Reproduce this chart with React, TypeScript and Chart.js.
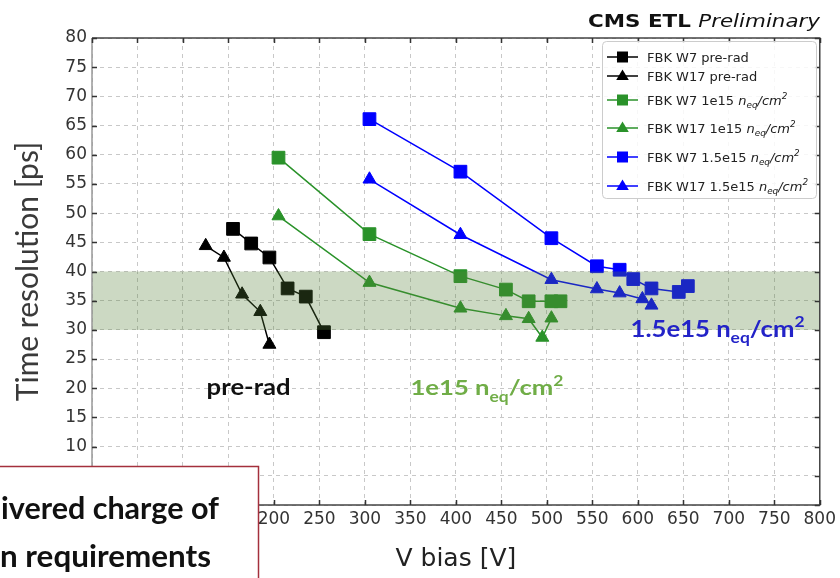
import React, { useEffect, useRef } from 'react';
import { Chart, registerables } from 'chart.js';

Chart.register(...registerables);

// ---------- data ----------
const w7PreX = [155, 175, 195, 215, 235, 255];
const w7PreY = [47.3, 44.8, 42.4, 37.1, 35.7, 29.6];

const w17PreX = [125, 145, 165, 185, 195];
const w17PreY = [44.4, 42.4, 36.1, 33.1, 27.5];

const w7e15X = [205, 305, 405, 455, 480, 505, 515];
const w7e15Y = [59.5, 46.4, 39.2, 36.9, 34.9, 34.9, 34.9];

const w17e15X = [205, 305, 405, 455, 480, 495, 505];
const w17e15Y = [49.5, 38.1, 33.7, 32.4, 31.9, 28.7, 32.0];

const w7e155X = [305, 405, 505, 555, 580, 595, 615, 645, 655];
const w7e155Y = [66.1, 57.1, 45.7, 40.9, 40.3, 38.7, 37.1, 36.5, 37.5];

const w17e155X = [305, 405, 505, 555, 580, 605, 615];
const w17e155Y = [55.8, 46.3, 38.6, 37.0, 36.3, 35.3, 34.2];

const bandRange = [30, 40];
const xMin = 0, xMax = 800, xStep = 50;
const yMin = 0, yMax = 80, yStep = 5;

const xTitle = 'V bias [V]';
const yTitle = 'Time resolution [ps]';

type Part = { t: string; i?: boolean; b?: boolean; sub?: boolean; sup?: boolean };

const fluence = (dose: string, it: boolean): Part[] => [
  { t: dose + ' ' },
  { t: 'n', i: it },
  { t: 'eq', i: it, sub: true },
  { t: '/cm', i: it },
  { t: '2', i: it, sup: true },
];

const seriesNames: Part[][] = [
  [{ t: 'FBK W7 pre-rad' }],
  [{ t: 'FBK W17 pre-rad' }],
  [{ t: 'FBK W7 ' }, ...fluence('1e15', true)],
  [{ t: 'FBK W17 ' }, ...fluence('1e15', true)],
  [{ t: 'FBK W7 ' }, ...fluence('1.5e15', true)],
  [{ t: 'FBK W17 ' }, ...fluence('1.5e15', true)],
];

const BLACK = '#000000';
const GREEN = '#2a922a';
const BLUE = '#0000ff';

const seriesColors = [BLACK, BLACK, GREEN, GREEN, BLUE, BLUE];
const seriesShapes = ['rect', 'triangle', 'rect', 'triangle', 'rect', 'triangle'];
const seriesX = [w7PreX, w17PreX, w7e15X, w17e15X, w7e155X, w17e155X];
const seriesY = [w7PreY, w17PreY, w7e15Y, w17e15Y, w7e155Y, w17e155Y];

// ---------- text helpers ----------
function fontOf(p: Part, size: number, family: string, bold: boolean) {
  const sz = p.sub || p.sup ? size * 0.68 : size;
  return `${p.i ? 'italic ' : ''}${p.b || bold ? 'bold ' : ''}${sz}px "${family}"`;
}

function drawRich(
  ctx: CanvasRenderingContext2D,
  parts: Part[],
  x: number,
  y: number,
  o: { size: number; family: string; bold?: boolean; color: string; align?: string; width?: number }
) {
  ctx.save();
  let total = 0;
  const widths = parts.map((p) => {
    ctx.font = fontOf(p, o.size, o.family, !!o.bold);
    const w = ctx.measureText(p.t).width;
    total += w;
    return w;
  });
  const sx = o.width ? o.width / total : 1;
  const W = total * sx;
  const x0 = o.align === 'center' ? x - W / 2 : o.align === 'right' ? x - W : x;
  ctx.translate(x0, y);
  ctx.scale(sx, 1);
  ctx.fillStyle = o.color;
  ctx.textAlign = 'left';
  ctx.textBaseline = 'alphabetic';
  let cx = 0;
  parts.forEach((p, k) => {
    ctx.font = fontOf(p, o.size, o.family, !!o.bold);
    const dy = p.sub ? o.size * 0.3 : p.sup ? -o.size * 0.42 : 0;
    ctx.fillText(p.t, cx, dy);
    cx += widths[k];
  });
  ctx.restore();
}

function drawMarker(ctx: CanvasRenderingContext2D, shape: string, x: number, y: number, r: number, color: string) {
  ctx.save();
  ctx.fillStyle = color;
  ctx.beginPath();
  if (shape === 'rect') {
    ctx.rect(x - r, y - r, 2 * r, 2 * r);
  } else {
    const h = r * 1.75;
    ctx.moveTo(x, y - h * 0.62);
    ctx.lineTo(x + r * 1.05, y + h * 0.38);
    ctx.lineTo(x - r * 1.05, y + h * 0.38);
    ctx.closePath();
  }
  ctx.fill();
  ctx.restore();
}

// ---------- plugin for matplotlib-like frame, band, legend, notes ----------
const decorPlugin = {
  id: 'decor',
  afterDatasetsDraw(chart: any) {
    const { ctx, chartArea: a, scales } = chart;
    const y = scales.y;
    const yTop = y.getPixelForValue(bandRange[1]);
    const yBot = y.getPixelForValue(bandRange[0]);
    ctx.save();
    ctx.fillStyle = 'rgba(85,128,55,0.3)';
    ctx.fillRect(a.left, yTop, a.right - a.left, yBot - yTop);
    ctx.restore();
  },
  afterDraw(chart: any) {
    const { ctx, chartArea: a, scales } = chart;
    const xs = scales.x;
    const ys = scales.y;

    // spines
    ctx.save();
    ctx.lineWidth = 1.5;
    ctx.strokeStyle = '#444';
    ctx.beginPath();
    ctx.moveTo(a.left, a.top);
    ctx.lineTo(a.right, a.top);
    ctx.lineTo(a.right, a.bottom);
    ctx.lineTo(a.left, a.bottom);
    ctx.stroke();
    ctx.strokeStyle = '#999';
    ctx.beginPath();
    ctx.moveTo(a.left, a.top);
    ctx.lineTo(a.left, a.bottom);
    ctx.stroke();

    // inward ticks on all four sides
    ctx.strokeStyle = '#333';
    ctx.lineWidth = 1.5;
    const tl = 5;
    ctx.beginPath();
    for (let v = xMin; v <= xMax; v += xStep) {
      const px = Math.round(xs.getPixelForValue(v)) + 0.5;
      ctx.moveTo(px, a.bottom);
      ctx.lineTo(px, a.bottom - tl);
      ctx.moveTo(px, a.top);
      ctx.lineTo(px, a.top + tl);
    }
    for (let v = yMin; v <= yMax; v += yStep) {
      const py = Math.round(ys.getPixelForValue(v)) + 0.5;
      ctx.moveTo(a.left, py);
      ctx.lineTo(a.left + tl, py);
      ctx.moveTo(a.right, py);
      ctx.lineTo(a.right - tl, py);
    }
    ctx.stroke();
    ctx.restore();

    // legend
    const lg = { left: 602, top: 41, right: 816, bottom: 198 };
    ctx.save();
    ctx.fillStyle = 'rgba(255,255,255,0.85)';
    ctx.strokeStyle = '#cccccc';
    ctx.lineWidth = 1;
    ctx.beginPath();
    (ctx as any).roundRect(lg.left + 0.5, lg.top + 0.5, lg.right - lg.left, lg.bottom - lg.top, 4);
    ctx.fill();
    ctx.stroke();
    ctx.restore();
    const rowY = [57, 76, 100, 128, 157, 186];
    seriesNames.forEach((parts, i) => {
      const yy = rowY[i];
      ctx.save();
      ctx.strokeStyle = seriesColors[i];
      ctx.lineWidth = 1.5;
      ctx.beginPath();
      ctx.moveTo(607, yy);
      ctx.lineTo(638, yy);
      ctx.stroke();
      ctx.restore();
      drawMarker(ctx, seriesShapes[i], 622.5, yy, seriesShapes[i] === 'rect' ? 5.5 : 6, seriesColors[i]);
      drawRich(ctx, parts, 647, yy + 4.5, { size: 13, family: 'DejaVu Sans', color: '#222' });
    });

    // header
    drawRich(ctx, [{ t: 'CMS ETL ', b: true }, { t: 'Preliminary', i: true }], 820, 26.5, {
      size: 18, family: 'DejaVu Sans', color: '#111', align: 'right', width: 232,
    });

    // slide annotations (placed in data units)
    drawRich(ctx, [{ t: 'pre-rad' }], xs.getPixelForValue(126), ys.getPixelForValue(18.8), {
      size: 22, family: 'Lato', bold: true, color: '#111', width: 84,
    });
    drawRich(ctx, fluence('1e15', false), xs.getPixelForValue(350), ys.getPixelForValue(18.8), {
      size: 21, family: 'Lato', bold: true, color: '#70ad47', width: 153,
    });
    drawRich(ctx, fluence('1.5e15', false), xs.getPixelForValue(592), ys.getPixelForValue(28.83), {
      size: 22, family: 'Lato', bold: true, color: '#2323c8', width: 174,
    });

    // overlapping slide text box (bottom-left)
    ctx.save();
    ctx.fillStyle = '#ffffff';
    ctx.strokeStyle = '#a4303c';
    ctx.lineWidth = 1.5;
    ctx.fillRect(-5, 466, 264, 200);
    ctx.strokeRect(-5, 466.5, 263.5, 200);
    ctx.restore();
    drawRich(ctx, [{ t: 'ivered charge of' }], 1, 518.5, {
      size: 30, family: 'Lato', bold: true, color: '#111', width: 218,
    });
    drawRich(ctx, [{ t: 'n requirements' }], 0, 566.5, {
      size: 30, family: 'Lato', bold: true, color: '#111', width: 211,
    });
  },
};

export default function App() {
  const ref = useRef<HTMLCanvasElement | null>(null);

  useEffect(() => {
    document.body.style.margin = '0';
    const canvas = ref.current;
    if (!canvas) return;

    const datasets = seriesX.map((xs, i) => ({
      label: seriesNames[i].map((p) => p.t).join(''),
      data: xs.map((v, k) => ({ x: v, y: seriesY[i][k] })),
      showLine: true,
      borderColor: seriesColors[i],
      backgroundColor: seriesColors[i],
      pointBackgroundColor: seriesColors[i],
      pointBorderColor: seriesColors[i],
      pointBorderWidth: 1,
      pointStyle: seriesShapes[i],
      pointRadius: seriesShapes[i] === 'rect' ? 9 : 7.5,
      borderWidth: 1.5,
      tension: 0,
      fill: false,
    }));

    const chart = new Chart(canvas, {
      type: 'scatter',
      data: { datasets },
      options: {
        responsive: false,
        animation: false,
        devicePixelRatio: 1,
        layout: { padding: { top: 38, right: 17, left: 0, bottom: 0 } },
        plugins: {
          legend: { display: false },
          tooltip: { enabled: false },
          title: { display: false },
        },
        scales: {
          x: {
            type: 'linear',
            min: xMin,
            max: xMax,
            afterFit: (s: any) => {
              s.height = 73;
            },
            ticks: {
              stepSize: xStep,
              autoSkip: false,
              maxRotation: 0,
              padding: 4,
              color: '#333',
              font: { family: 'DejaVu Sans', size: 17 },
            },
            grid: { color: '#c8c8c8', lineWidth: 1, drawTicks: false },
            border: { display: false, dash: [4, 4] },
            title: {
              display: true,
              text: xTitle,
              color: '#222',
              font: { family: 'DejaVu Sans', size: 25 },
              padding: { top: 0, bottom: 4 },
            },
          },
          y: {
            type: 'linear',
            min: yMin,
            max: yMax,
            afterFit: (s: any) => {
              s.width = 92;
            },
            ticks: {
              stepSize: yStep,
              autoSkip: false,
              padding: 5,
              color: '#333',
              font: { family: 'DejaVu Sans', size: 17 },
            },
            grid: { color: '#c8c8c8', lineWidth: 1, drawTicks: false },
            border: { display: false, dash: [4, 4] },
            title: {
              display: true,
              text: yTitle,
              color: '#3a3a3a',
              font: { family: 'Lato', size: 30 },
              padding: { top: 10, bottom: 0 },
            },
          },
        },
      },
      plugins: [decorPlugin],
    } as any);

    return () => chart.destroy();
  }, []);

  return (
    <div style={{ position: 'absolute', left: 0, top: 0, width: 840, height: 578 }}>
      <canvas ref={ref} width={840} height={578} style={{ display: 'block' }} />
    </div>
  );
}
